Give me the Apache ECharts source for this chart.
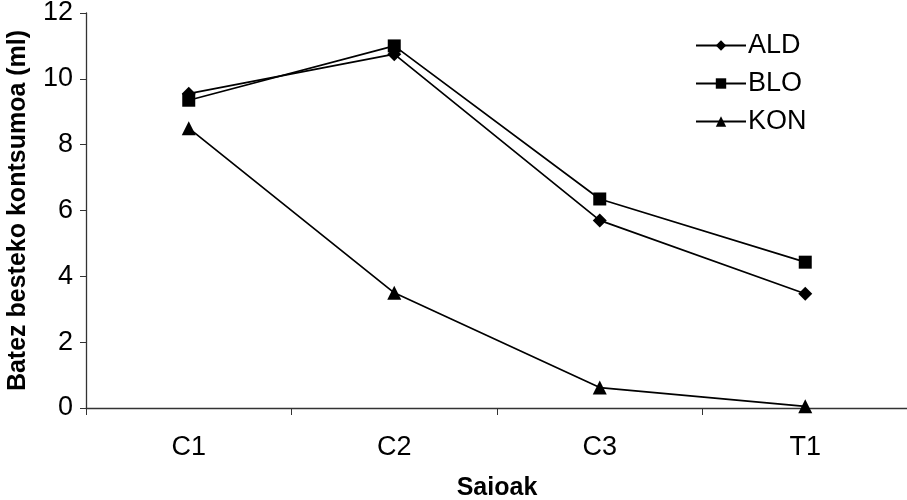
<!DOCTYPE html>
<html><head><meta charset="utf-8">
<script src="https://cdn.jsdelivr.net/npm/echarts@6/dist/echarts.min.js"></script>
<style>html,body{margin:0;padding:0;background:#fff}#c{width:907px;height:500px}</style>
</head><body><div id="c"></div>
<script>
var categories = ['C1', 'C2', 'C3', 'T1'];
var ald = [9.55, 10.75, 5.7, 3.47];
var blo = [9.35, 11.0, 6.35, 4.43];
var kon = [8.5, 3.5, 0.62, 0.05];
var yTicks = { min: 0, max: 12, interval: 2 };
var FONT = '"Liberation Sans", Arial, sans-serif';

function ser(name, data, symbol, size) {
  return {
    name: name, type: 'line', data: data, symbol: symbol, symbolSize: size,
    lineStyle: { color: '#000', width: 1.7 },
    itemStyle: { color: '#000' },
    animation: false
  };
}
var chart = echarts.init(document.getElementById('c'), null, { renderer: 'canvas' });
chart.setOption({
  backgroundColor: '#fff',
  animation: false,
  grid: { left: 86, right: -1, top: 13, bottom: 92, containLabel: false, outerBoundsMode: 'none' },
  legend: {
    orient: 'vertical', left: 690, top: 27,
    itemWidth: 50, itemHeight: 13, itemGap: 11,
    textStyle: { fontFamily: FONT, fontSize: 27, color: '#000', padding: [0, 0, 0, -3] },
    data: ['ALD', 'BLO', 'KON']
  },
  xAxis: {
    type: 'category', data: categories, boundaryGap: true,
    name: 'Saioak', nameLocation: 'middle', nameGap: 68,
    nameTextStyle: { fontFamily: FONT, fontSize: 25, fontWeight: 'bold', color: '#000' },
    axisLine: { lineStyle: { color: '#333', width: 1.3 } },
    axisTick: { show: true, length: 7, lineStyle: { color: '#333' } },
    axisLabel: { fontFamily: FONT, fontSize: 27, color: '#000', margin: 26 }
  },
  yAxis: {
    type: 'value', min: yTicks.min, max: yTicks.max, interval: yTicks.interval,
    name: 'Batez besteko kontsumoa (ml)', nameLocation: 'middle', nameGap: 55,
    nameTextStyle: { fontFamily: FONT, fontSize: 25, fontWeight: 'bold', color: '#000' },
    axisLine: { show: true, lineStyle: { color: '#333', width: 1.3 } },
    axisTick: { show: true, length: 6, lineStyle: { color: '#333' } },
    splitLine: { show: false },
    axisLabel: { fontFamily: FONT, fontSize: 27, color: '#000', margin: 13 }
  },
  series: [
    ser('ALD', ald, 'diamond', 14),
    ser('BLO', blo, 'rect', 13),
    ser('KON', kon, 'triangle', 14)
  ]
});
</script></body></html>
